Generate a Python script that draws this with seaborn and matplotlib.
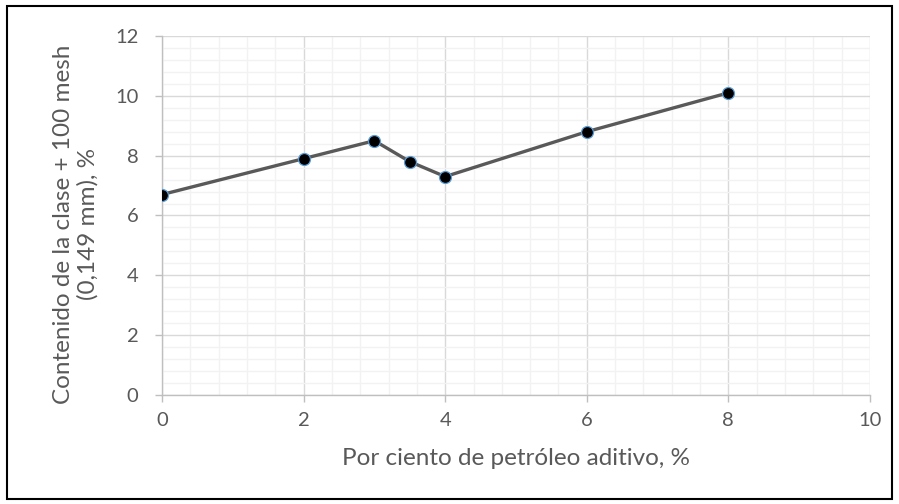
import numpy as np
import pandas as pd
import matplotlib
import matplotlib.pyplot as plt
import seaborn as sns
from matplotlib.ticker import MultipleLocator
from matplotlib.patches import Rectangle

# values
petroleo = [0, 2, 3, 3.5, 4, 6, 8]
contenido = [6.7, 7.9, 8.5, 7.8, 7.3, 8.8, 10.1]

df = pd.DataFrame({'petroleo': petroleo, 'contenido': contenido})

sns.set_style('white')
plt.rcParams['font.family'] = ['Lato', 'DejaVu Sans']

fig = plt.figure(figsize=(8.99, 5.04), dpi=100)
ax = fig.add_axes([0.1802, 0.2163, 0.7875, 0.7123])

sns.lineplot(x='petroleo', y='contenido', data=df, ax=ax, color='#595959',
             linewidth=2.4, marker='o', markersize=8.6, markerfacecolor='black',
             markeredgecolor='#5B9BD5', markeredgewidth=0.9, zorder=5)

ax.set_xlim(0, 10)
ax.set_ylim(0, 12)
ax.xaxis.set_major_locator(MultipleLocator(2))
ax.yaxis.set_major_locator(MultipleLocator(2))
ax.xaxis.set_minor_locator(MultipleLocator(0.4))
ax.yaxis.set_minor_locator(MultipleLocator(0.4))
ax.grid(which='major', color='#D9D9D9', linewidth=1)
ax.grid(which='minor', color='#F2F2F2', linewidth=1)
ax.set_axisbelow(True)

for s in ['top', 'right']:
    ax.spines[s].set_visible(False)
for s in ['left', 'bottom']:
    ax.spines[s].set_color('#BFBFBF')
    ax.spines[s].set_linewidth(1)

ax.tick_params(which='major', direction='out', length=5, width=1, color='#BFBFBF',
               labelcolor='#595959', labelsize=14.5, left=True, bottom=True)
ax.tick_params(axis='x', which='major', pad=7)
ax.tick_params(axis='y', which='major', pad=12)
ax.tick_params(which='minor', length=0)

ax.set_xlabel('Por ciento de petróleo aditivo, %', color='#595959', fontsize=17.5, va='center')
ax.xaxis.set_label_coords(0.5, (395 - 459) / 359)
ax.set_ylabel('Contenido de la clase + 100 mesh\n(0,149 mm), %', color='#595959',
              fontsize=17.5, linespacing=1.2, va='center', ha='center')
ax.yaxis.set_label_coords((76 - 162) / 708, (395 - 224) / 359)

fig.patches.append(Rectangle((7 / 899, 5 / 504), 885 / 899, 493 / 504, transform=fig.transFigure,
                             fill=False, edgecolor='black', linewidth=1.5))

fig.savefig('out.png', dpi=100)
